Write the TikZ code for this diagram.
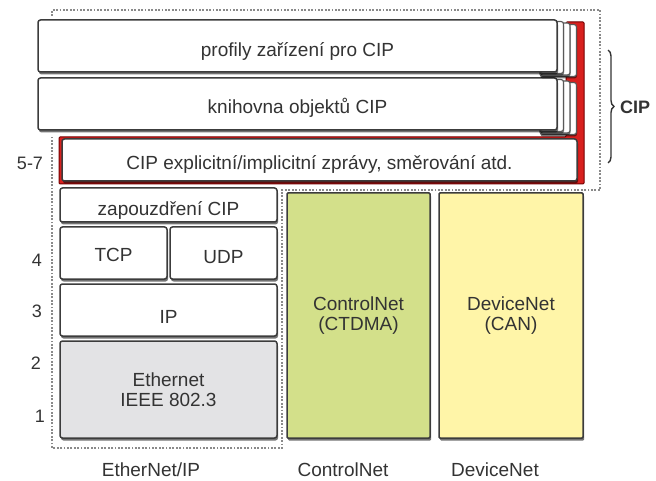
\documentclass[tikz,border=0pt]{standalone}
\usepackage{fontspec}
\setmainfont{Liberation Sans}
\usetikzlibrary{shadows,decorations.pathreplacing}
\definecolor{txt}{HTML}{333333}
\definecolor{edge}{HTML}{3C3C3C}
\definecolor{cipred}{HTML}{D8201E}
\definecolor{ethgray}{HTML}{E3E3E5}
\definecolor{cngreen}{HTML}{D3E08A}
\definecolor{dnyellow}{HTML}{FFF5A8}
\definecolor{dotgray}{HTML}{8A8A8A}
\begin{document}
\begin{tikzpicture}[x=1pt,y=-1pt,
 box/.style={draw=edge, line width=1.5pt, fill=white, rounded corners=2.5pt, inner sep=0pt,
   text=txt, align=center, font=\fontsize{19}{20}\selectfont, text depth=0pt, text height=19.6pt,
   drop shadow={shadow xshift=1pt, shadow yshift=-2.5pt, fill=black, opacity=0.55}},
 tallbox/.style={box, text height=, text depth=},
 page/.style={draw=edge!85, line width=1.2pt, fill=white, rounded corners=2.5pt,
   drop shadow={shadow xshift=0.5pt, shadow yshift=-2pt, fill=black, opacity=0.5}},
 lbl/.style={text=txt, font=\fontsize{19}{21}\selectfont, inner sep=0pt},
 num/.style={text=txt, font=\fontsize{18}{20}\selectfont, inner sep=0pt},
 dotframe/.style={draw=dotgray, line width=1.6pt, dash pattern=on 1.8pt off 1.6pt}
]
\useasboundingbox (0,0) rectangle (656,481);
% dotted frame
\draw[dotframe] (52,16) -- (52,10) -- (600,10) -- (600,190) -- (282,190) -- (282,448) -- (52,448) -- (52,137);
% red CIP frame
\draw[draw=black!55!red, line width=1pt, fill=cipred, rounded corners=1pt]
  (59,137) -- (566,137) -- (566,22) -- (584,22) -- (584,184) -- (59,184) -- cycle;
% stacked pages behind box 2
\foreach \k in {3,2,1} {
  \draw[page] (540,{78+1.5*\k}) rectangle ({557+6.5*\k},{130+1.5*\k});
}
\node[box, minimum width=519pt, minimum height=52pt] (knih) at (297.5,104) {knihovna objektů CIP};
% stacked pages behind box 1
\foreach \k in {3,2,1} {
  \draw[page] (540,{20+1.5*\k}) rectangle ({557+6.5*\k},{72+1.5*\k});
}
\node[box, minimum width=519pt, minimum height=52pt, text height=21pt] (prof) at (297.5,46) {profily zařízení pro CIP};
\node[box, minimum width=515pt, minimum height=42pt, text height=18.6pt] (msg) at (319.5,160) {CIP explicitní/implicitní zprávy, směrování atd.};
% EtherNet/IP stack
\node[box, minimum width=217pt, minimum height=34pt, text height=20.6pt] (zap) at (168.5,205) {zapouzdření CIP};
\node[box, minimum width=107pt, minimum height=52pt, text height=17.6pt] (tcp) at (113.5,253) {TCP};
\node[box, minimum width=107pt, minimum height=52pt, text height=20.6pt] (udp) at (223.5,253) {UDP};
\node[box, minimum width=217pt, minimum height=52pt, text height=26.6pt] (ip) at (168.5,310) {IP};
\node[tallbox, fill=ethgray, minimum width=217pt, minimum height=97pt] (eth) at (168.5,389.5) {Ethernet\\IEEE 802.3};
% ControlNet, DeviceNet
\node[tallbox, fill=cngreen, rounded corners=1pt, minimum width=143pt, minimum height=245pt] (cnet) at (358.5,315.5) {ControlNet\\(CTDMA)};
\node[tallbox, fill=dnyellow, rounded corners=1pt, minimum width=144pt, minimum height=245pt] (dnet) at (511,315.5) {DeviceNet\\(CAN)};
% layer numbers
\node[num] (l57) at (30,163) {5-7};
\node[num] (l4) at (37,260) {4};
\node[num] (l3) at (37,311) {3};
\node[num] (l2) at (36,363) {2};
\node[num] (l1) at (40,416) {1};
% bottom labels
\node[lbl] (leth) at (151,470) {EtherNet/IP};
\node[lbl] (lcn) at (343,470) {ControlNet};
\node[lbl] (ldn) at (495,470) {DeviceNet};
% brace and CIP label
\coordinate (bt) at (608,50);
\coordinate (bb) at (608,163);
\draw[txt, line width=1.4pt, decorate, decoration={brace, amplitude=6pt}] (bt) -- (bb);
\node[text=txt, font=\bfseries\fontsize{18}{20}\selectfont, inner sep=0pt] (ciplbl) at (635,107) {CIP};
\end{tikzpicture}
\end{document}
